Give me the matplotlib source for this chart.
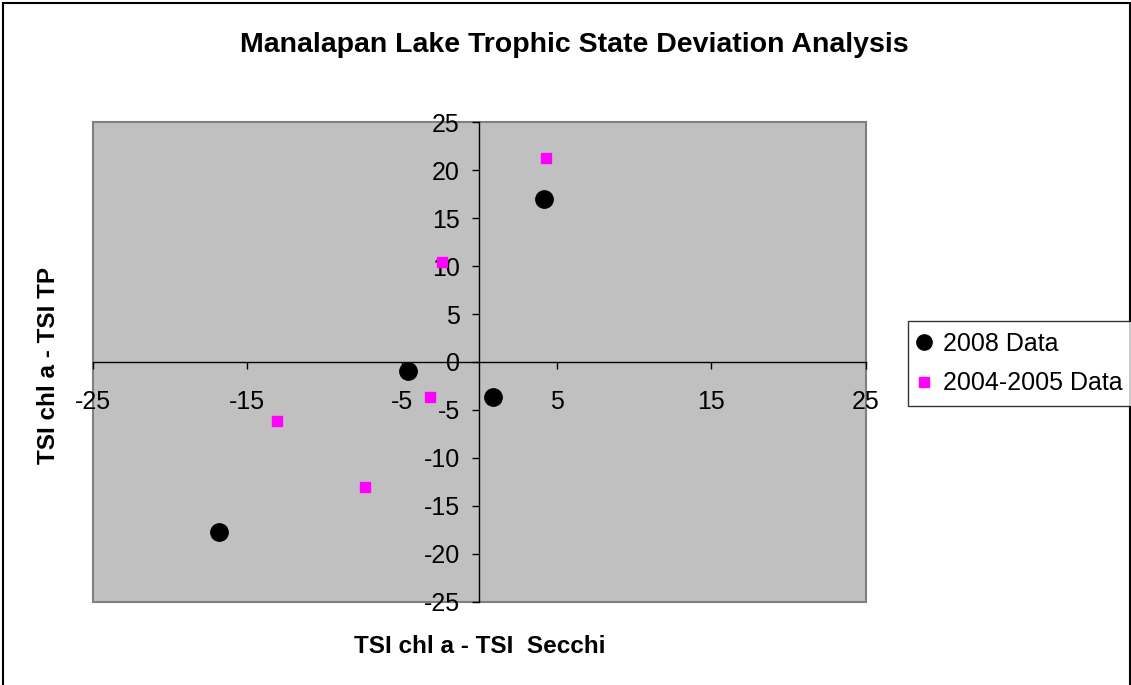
#!/usr/bin/env python
"""Manalapan Lake trophic state deviation scatter."""

import matplotlib

matplotlib.use("Agg")
import matplotlib.pyplot as plt
from matplotlib.lines import Line2D
from matplotlib.patches import Rectangle

# TSI chl a - TSI Secchi (x) vs TSI chl a - TSI TP (y)
data_2008_x = [-16.8, -4.6, 0.9, 4.2]
data_2008_y = [-17.7, -0.9, -3.7, 17.0]
data_0405_x = [-13.1, -7.4, -3.2, -2.4, 4.3]
data_0405_y = [-6.2, -13.0, -3.6, 10.4, 21.3]

x_ticks = [-25, -15, -5, 5, 15, 25]
y_ticks = [-25, -20, -15, -10, -5, 0, 5, 10, 15, 20, 25]

plt.rcParams["font.family"] = ["Liberation Sans", "DejaVu Sans"]
plt.rcParams["axes.unicode_minus"] = False

fig = plt.figure(figsize=(11.31, 6.85), dpi=100)
ax = fig.add_axes([0.0818, 0.1216, 0.6839, 0.6999])
ax.set_facecolor("#c0c0c0")

ax.plot(data_2008_x, data_2008_y, linestyle="none", marker="o", markersize=12.5,
        color="black", label="2008 Data", zorder=3)
ax.plot(data_0405_x, data_0405_y, linestyle="none", marker="s", markersize=7.5,
        color="#ff00ff", label="2004-2005 Data", zorder=3)

ax.set_xlim(-25, 25)
ax.set_ylim(-25, 25)
ax.set_xticks(x_ticks)
ax.set_yticks(y_ticks)

for side in ("left", "bottom"):
    ax.spines[side].set_position("zero")
    ax.spines[side].set_color("black")
    ax.spines[side].set_linewidth(1.0)
for side in ("top", "right"):
    ax.spines[side].set_visible(False)
ax.add_patch(Rectangle((0, 0), 1, 1, transform=ax.transAxes, fill=False,
                       edgecolor="#808080", linewidth=1.5, zorder=0.5, clip_on=False))

ax.tick_params(axis="x", direction="out", length=5, width=1, labelsize=18, pad=15)
ax.tick_params(axis="y", direction="out", length=5, width=1, labelsize=18, pad=9)

fig.text(0.5075, 0.934, "Manalapan Lake Trophic State Deviation Analysis",
         ha="center", va="center", fontsize=20.5, fontweight="bold")
fig.text(0.4245, 0.056, "TSI chl a - TSI  Secchi", ha="center", va="center",
         fontsize=17.5, fontweight="bold")
fig.text(0.043, 0.467, "TSI chl a - TSI TP", ha="center", va="center",
         rotation=90, fontsize=17.5, fontweight="bold")

handles = [
    Line2D([], [], linestyle="none", marker="o", markersize=11, color="black"),
    Line2D([], [], linestyle="none", marker="s", markersize=7, color="#ff00ff"),
]
leg = fig.legend(handles, ["2008 Data", "2004-2005 Data"], loc="upper left",
                 bbox_to_anchor=(0.8025, 0.531), fontsize=18, frameon=True,
                 fancybox=False, handlelength=0.5, handletextpad=0.5,
                 borderpad=0.42, labelspacing=0.62, borderaxespad=0)
leg.get_frame().set_edgecolor("black")
leg.get_frame().set_linewidth(1.0)

fig.add_artist(Rectangle((0.003, -0.05), 0.996, 1.046, transform=fig.transFigure,
                         fill=False, edgecolor="black", linewidth=1.5))

fig.savefig("out.png", dpi=100)
